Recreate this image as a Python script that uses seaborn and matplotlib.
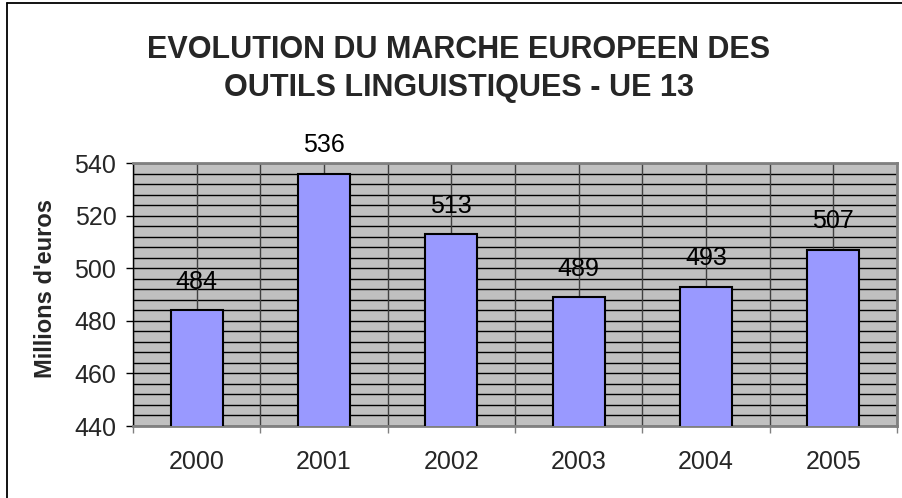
import matplotlib
matplotlib.use("Agg")
import matplotlib.pyplot as plt
import seaborn as sns
import pandas as pd
import numpy as np
from matplotlib.lines import Line2D

years = ["2000", "2001", "2002", "2003", "2004", "2005"]
values = [484, 536, 513, 489, 493, 507]
title_text = "EVOLUTION DU MARCHE EUROPEEN DES\nOUTILS LINGUISTIQUES - UE 13"
ylabel_text = "Millions d'euros"
ymin, ymax = 440, 540

sns.set_style("white")
plt.rcParams['font.family'] = ['Liberation Sans', 'DejaVu Sans']

df = pd.DataFrame({"year": years, "value": values})

fig = plt.figure(figsize=(9.03, 4.98), dpi=100)
ax = fig.add_axes([133/903, 1 - 426/498, (897-133)/903, (426-163.3)/498])
ax.set_facecolor("#C0C0C0")

sns.barplot(data=df, x="year", y="value", ax=ax, color="#9999FF",
            width=0.41, edgecolor="black", linewidth=1.5, saturation=1, zorder=3)

ax.set_ylim(ymin, ymax)
ax.set_xlim(-0.5, len(years) - 0.5)

# horizontal gridlines every 4 units
for yv in np.arange(ymin, ymax + 0.1, 4):
    ax.axhline(yv, color="black", lw=1.0, zorder=1)
# vertical gridlines at centers and boundaries
for xv in np.arange(-0.5, len(years), 0.5):
    ax.axvline(xv, color="#404040", lw=1.0, zorder=1)

ax.set_yticks(np.arange(ymin, ymax + 1, 20))
ax.tick_params(axis="y", length=5, width=1, direction="out", pad=7,
               labelsize=18, color="black", left=True)
ax.tick_params(axis="x", which="major", length=0, pad=17, labelsize=18)
ax.set_xticks(np.arange(-0.5, len(years), 1.0), minor=True)
ax.tick_params(axis="x", which="minor", length=5, width=1, direction="out",
               color="#808080", bottom=True)

ax.set_xlabel("")
ax.set_ylabel(ylabel_text, fontsize=17, fontweight="bold")
ax.yaxis.set_label_coords(-0.1, 0.523)

for side in ["top", "right", "bottom"]:
    ax.spines[side].set_color("#808080")
    ax.spines[side].set_linewidth(2)
    ax.spines[side].set_visible(True)
ax.spines["left"].set_color("black")
ax.spines["left"].set_linewidth(1)
ax.spines["left"].set_visible(True)

for i, v in enumerate(values):
    ax.annotate(str(v), xy=(i, v), xytext=(0, 12), textcoords="offset points",
                ha="center", va="bottom", fontsize=18, color="black",
                annotation_clip=False, zorder=5)

fig.text(459/903, 1 - 69/498, title_text, ha="center", va="center",
         fontsize=22, fontweight="bold", linespacing=1.36)

# chart border (left and top visible)
fig.add_artist(Line2D([7/903, 7/903], [0, 1 - 3/498], transform=fig.transFigure,
                      color="black", lw=1.3))
fig.add_artist(Line2D([7/903, 1], [1 - 3/498, 1 - 3/498], transform=fig.transFigure,
                      color="black", lw=1.3))

fig.savefig("out.png", dpi=100)
